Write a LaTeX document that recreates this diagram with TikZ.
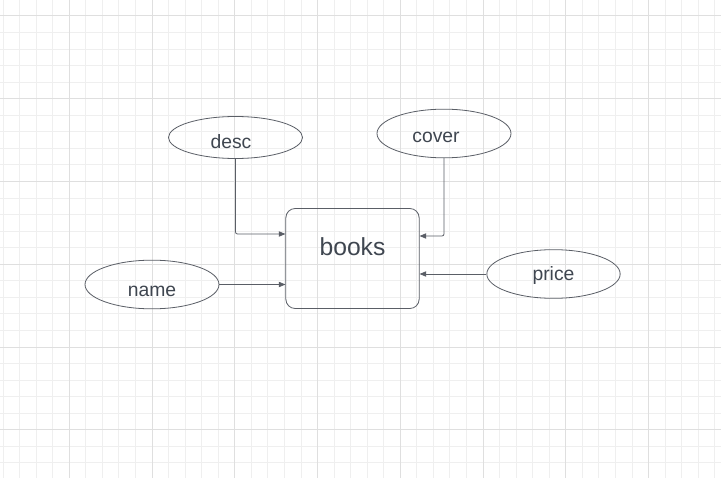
\documentclass[tikz,border=0pt]{standalone}
\usepackage{fontspec}
\setmainfont{Liberation Sans}
\usetikzlibrary{shapes.geometric,arrows.meta}
\definecolor{minorgrid}{HTML}{EFEFEF}
\definecolor{majorgrid}{HTML}{DFDFDF}
\definecolor{txtcol}{HTML}{3F4650}
\definecolor{linecol}{HTML}{5A5E66}
\begin{document}
\begin{tikzpicture}[x=0.75pt,y=-0.75pt,
  attr/.style={ellipse,draw=linecol,line width=0.6pt,minimum width=100.5pt,minimum height=36.5pt,inner sep=0pt},
  entity/.style={rectangle,rounded corners=7pt,draw=linecol,line width=0.6pt,minimum width=100pt,minimum height=75pt,inner sep=0pt},
  lbl/.style={font=\fontsize{14.5}{16}\selectfont,text=txtcol},
  conn/.style={draw=linecol,line width=0.6pt,-{Triangle[length=5pt,width=4pt]},rounded corners=1.5pt}]
\useasboundingbox (0,0) rectangle (721,478);
\fill[white] (0,0) rectangle (721,478);
\foreach \k in {0,...,43} {\draw[minorgrid,line width=0.75pt] ({3.1+\k*16.55},0) -- ({3.1+\k*16.55},478);}
\foreach \k in {0,...,29} {\draw[minorgrid,line width=0.75pt] (0,{-0.55+\k*16.55}) -- (721,{-0.55+\k*16.55});}
\foreach \k in {0,...,8} {\draw[majorgrid,line width=0.75pt] ({3.1+(4+5*\k)*16.55},0) -- ({3.1+(4+5*\k)*16.55},478);}
\foreach \k in {0,...,5} {\draw[majorgrid,line width=0.75pt] (0,{-0.55+(1+5*\k)*16.55}) -- (721,{-0.55+(1+5*\k)*16.55});}

\node[entity,label={[lbl,font=\fontsize{18.5}{20}\selectfont,yshift=9pt]center:books}] (books) at (352.5,258.5) {};
\node[attr,minimum height=31.5pt,label={[lbl,xshift=-3.4pt,yshift=-3pt]center:desc}] (desc) at (235.5,137.5) {};
\node[attr,label={[lbl,xshift=-6pt,yshift=-3pt]center:cover}] (cover) at (444,133.5) {};
\node[attr,label={[lbl,yshift=-5.5pt]center:name}] (name) at (152,284.5) {};
\node[attr,minimum width=100pt,label={[lbl,yshift=-1pt]center:price}] (price) at (553.5,274) {};

\coordinate (descin) at (books.west |- 0,234);
\coordinate (coverin) at (books.east |- 0,236);
\coordinate (namein) at (books.west |- 0,284.5);
\coordinate (pricein) at (books.east |- 0,274);
\draw[conn] (desc.south) |- (descin);
\draw[conn] (cover.south) |- (coverin);
\draw[conn] (name.east) -- (namein);
\draw[conn] (price.west) -- (pricein);
\end{tikzpicture}
\end{document}
